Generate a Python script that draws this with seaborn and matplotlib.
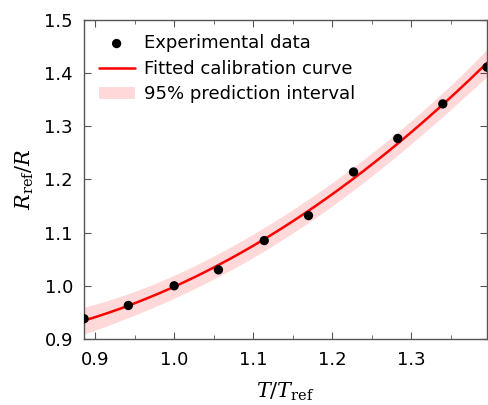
import numpy as np
import pandas as pd
import matplotlib
matplotlib.use("Agg")
import matplotlib.pyplot as plt
import seaborn as sns
from matplotlib.ticker import MultipleLocator

t_ratio = [0.886, 0.942, 1.000, 1.056, 1.114, 1.170, 1.227, 1.283, 1.340, 1.396]
r_ratio = [0.938, 0.963, 1.000, 1.030, 1.085, 1.132, 1.214, 1.277, 1.342, 1.411]

data = pd.DataFrame({"T": t_ratio, "R": r_ratio})

# quadratic calibration fit + 95% prediction interval
coef = np.polyfit(data["T"], data["R"], 2)
resid = data["R"] - np.polyval(coef, data["T"])
dof = len(data) - 3
s = np.sqrt(np.sum(resid ** 2) / dof)
t_crit = 2.365  # t(0.975, 7)
X = np.vander(data["T"], 3)
XtX_inv = np.linalg.inv(X.T @ X)

x_fit = np.linspace(min(t_ratio), max(t_ratio), 200)
Xf = np.vander(x_fit, 3)
y_fit = Xf @ coef
lev = np.einsum("ij,jk,ik->i", Xf, XtX_inv, Xf)
half = t_crit * s * np.sqrt(1 + lev)
fit = pd.DataFrame({"T": x_fit, "R": y_fit})

sns.set_style("ticks")
plt.rcParams["font.family"] = ["DejaVu Sans"]
plt.rcParams["mathtext.fontset"] = "dejavuserif"
plt.rcParams["text.color"] = "black"

fig = plt.figure(figsize=(4.89, 4.05), dpi=100)
ax = fig.add_axes([0.172, 0.163, 0.824, 0.788])

ax.fill_between(x_fit, y_fit - half, y_fit + half, color="#ff0000", alpha=0.15,
                linewidth=0, label="95% prediction interval")
sns.lineplot(data=fit, x="T", y="R", color="#ff0000", linewidth=1.8, ax=ax,
             label="Fitted calibration curve")
sns.scatterplot(data=data, x="T", y="R", color="black", s=45, edgecolor="none",
                ax=ax, label="Experimental data", zorder=3)

ax.set_xlim(min(t_ratio), max(t_ratio))
ax.set_ylim(0.9, 1.5)
ax.xaxis.set_major_locator(MultipleLocator(0.1))
ax.xaxis.set_minor_locator(MultipleLocator(0.05))
ax.yaxis.set_major_locator(MultipleLocator(0.1))
ax.tick_params(which="both", direction="in", top=True, right=True,
               labelsize=13, color="#555555", labelcolor="black")
ax.tick_params(axis="x", pad=9)
ax.tick_params(axis="y", pad=8)
ax.tick_params(which="major", length=5)
ax.tick_params(which="minor", length=3)
for sp in ax.spines.values():
    sp.set_color("#555555")
    sp.set_linewidth(1.0)

ax.set_xlabel(r"$T/T_{\mathrm{ref}}$", fontsize=15, labelpad=8, color="black")
ax.set_ylabel(r"$R_{\mathrm{ref}}/R$", fontsize=15, labelpad=6, color="black")

h, l = ax.get_legend_handles_labels()
order = [l.index("Experimental data"), l.index("Fitted calibration curve"),
         l.index("95% prediction interval")]
leg = ax.legend([h[i] for i in order], [l[i] for i in order], loc="upper left",
                frameon=False, fontsize=13, handlelength=2.0, handletextpad=0.5,
                borderaxespad=0.4, labelspacing=0.42)

fig.savefig("out.png", dpi=100)
